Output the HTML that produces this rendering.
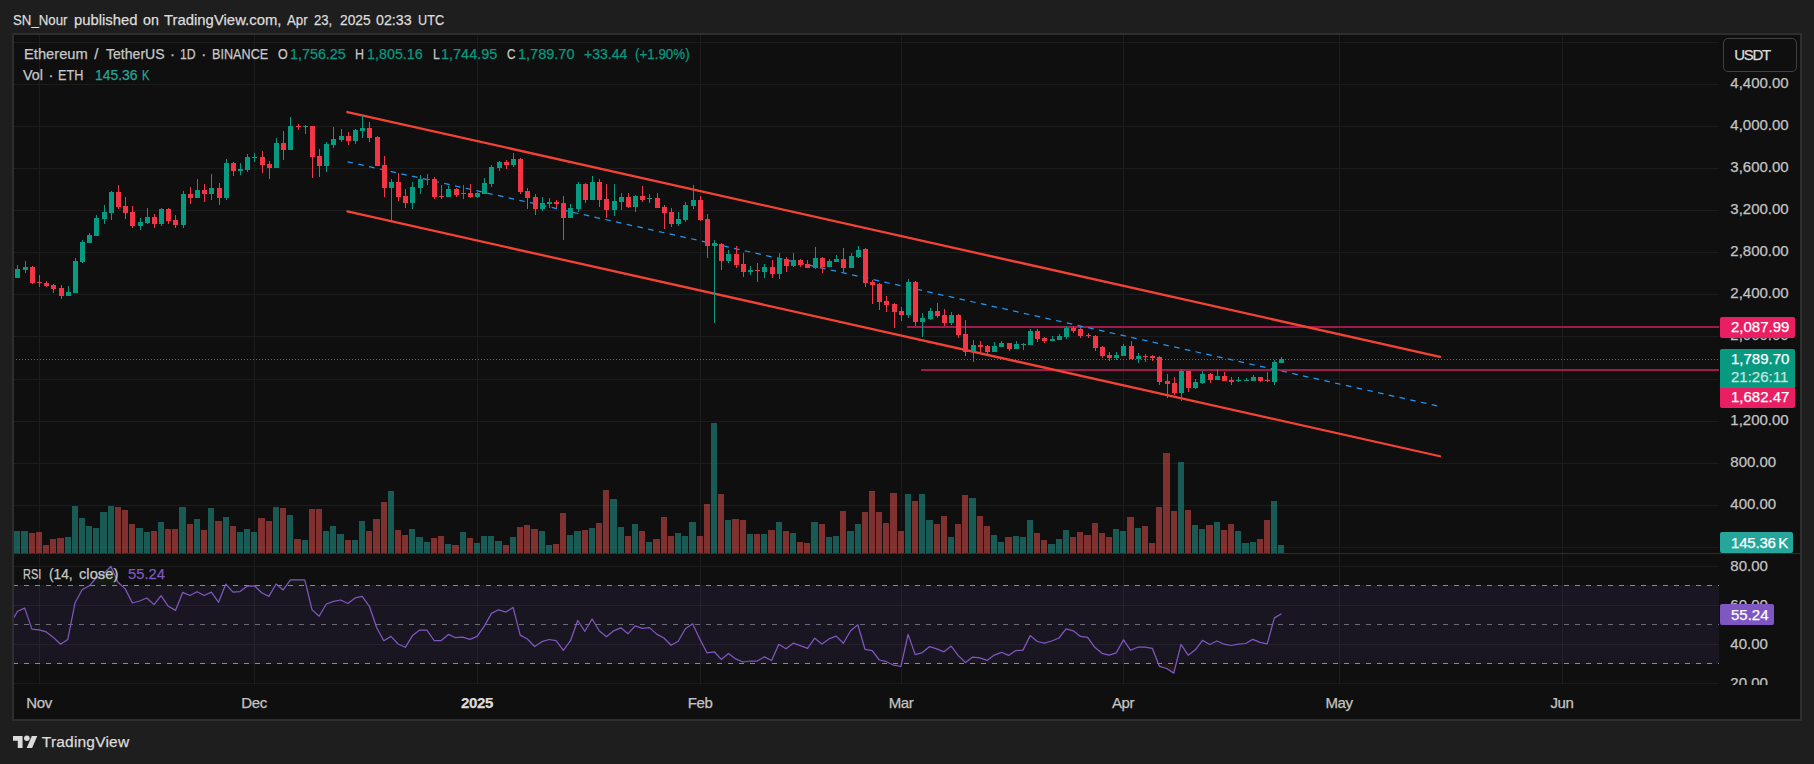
<!DOCTYPE html><html><head><meta charset="utf-8"><title>ETHUSDT chart</title><style>
html,body{margin:0;padding:0;background:#1e1e1e;}
body{width:1814px;height:764px;position:relative;overflow:hidden;font-family:"Liberation Sans", Arial, sans-serif;}
.t{position:absolute;white-space:nowrap;line-height:1;transform-origin:0 0;-webkit-text-stroke:0.25px currentColor;}
.title{font-size:15px;color:#dcdcdc;}
.lg{font-size:15px;color:#c8c8c8;}
.gr{color:#089981} .vg{color:#26a69a} .pu{color:#7e57c2}
.ax{font-size:15px;color:#c4c4c4;left:1730.3px;}
.tm{font-size:15px;color:#c4c4c4;transform:translateX(-50%);top:695px;letter-spacing:-0.4px;}
.lbl{-webkit-text-stroke:0.25px currentColor;position:absolute;left:1720px;color:#fff;font-size:15px;border-radius:2px;box-sizing:border-box;padding-left:11px;white-space:nowrap;width:75px;}
.usdt{-webkit-text-stroke:0.25px currentColor;position:absolute;left:1723px;top:38px;width:74px;height:34px;box-sizing:border-box;border:1px solid #424242;border-radius:5px;color:#dcdcdc;font-size:15px;line-height:32px;padding-left:10.2px;letter-spacing:-1.3px;background:#0f0f0f;}
.foot{left:41.8px;top:734px;font-size:15.5px;color:#dcdcdc;letter-spacing:0.2px;}

</style></head><body>
<svg width="1814" height="764" viewBox="0 0 1814 764" style="position:absolute;left:0;top:0">
<rect x="12" y="33" width="1790" height="688" fill="#2e2e2e"/>
<rect x="14" y="35" width="1786" height="684" fill="#0f0f0f"/>
<defs><clipPath id="cp"><rect x="14" y="35" width="1705" height="518"/></clipPath><clipPath id="cr2"><rect x="14" y="554" width="1705" height="129"/></clipPath><clipPath id="cr"><rect x="14" y="554" width="1705" height="129"/></clipPath></defs>
<g shape-rendering="crispEdges" fill="#1c1c1c"><rect x="14" y="42" width="1705" height="1"/><rect x="14" y="84" width="1705" height="1"/><rect x="14" y="126" width="1705" height="1"/><rect x="14" y="168" width="1705" height="1"/><rect x="14" y="210" width="1705" height="1"/><rect x="14" y="252" width="1705" height="1"/><rect x="14" y="294" width="1705" height="1"/><rect x="14" y="336" width="1705" height="1"/><rect x="14" y="379" width="1705" height="1"/><rect x="14" y="421" width="1705" height="1"/><rect x="14" y="463" width="1705" height="1"/><rect x="14" y="505" width="1705" height="1"/><rect x="14" y="547" width="1705" height="1"/><rect x="14" y="566" width="1705" height="1"/><rect x="14" y="605" width="1705" height="1"/><rect x="14" y="644" width="1705" height="1"/><rect x="39" y="35" width="1" height="650"/><rect x="254" y="35" width="1" height="650"/><rect x="477" y="35" width="1" height="650"/><rect x="700" y="35" width="1" height="650"/><rect x="901" y="35" width="1" height="650"/><rect x="1123" y="35" width="1" height="650"/><rect x="1339" y="35" width="1" height="650"/><rect x="1562" y="35" width="1" height="650"/></g>
<rect x="14" y="585" width="1705" height="79" fill="#7e57c2" fill-opacity="0.1"/>
<line clip-path="url(#cr2)" x1="13" y1="585.5" x2="1719" y2="585.5" stroke="#8a8a93" stroke-width="1" stroke-dasharray="5,6" shape-rendering="crispEdges"/>
<line clip-path="url(#cr2)" x1="13" y1="624.5" x2="1719" y2="624.5" stroke="#6a6a73" stroke-width="1" stroke-dasharray="5,6" shape-rendering="crispEdges"/>
<line clip-path="url(#cr2)" x1="13" y1="663.5" x2="1719" y2="663.5" stroke="#8a8a93" stroke-width="1" stroke-dasharray="5,6" shape-rendering="crispEdges"/>
<rect x="14" y="553" width="1786" height="1" fill="#2e2e2e" shape-rendering="crispEdges"/>
<rect x="14" y="683" width="1705" height="1" fill="#1c1c1c" shape-rendering="crispEdges"/>
<g shape-rendering="crispEdges"><rect x="14" y="531" width="6" height="22" fill="#26a69a" fill-opacity="0.5"/><rect x="21" y="531" width="7" height="22" fill="#26a69a" fill-opacity="0.5"/><rect x="29" y="533" width="6" height="20" fill="#ef5350" fill-opacity="0.5"/><rect x="36" y="532" width="6" height="21" fill="#ef5350" fill-opacity="0.5"/><rect x="43" y="545" width="6" height="8" fill="#ef5350" fill-opacity="0.5"/><rect x="50" y="539" width="6" height="14" fill="#ef5350" fill-opacity="0.5"/><rect x="57" y="538" width="7" height="15" fill="#ef5350" fill-opacity="0.5"/><rect x="65" y="537" width="6" height="16" fill="#26a69a" fill-opacity="0.5"/><rect x="72" y="506" width="6" height="47" fill="#26a69a" fill-opacity="0.5"/><rect x="79" y="518" width="6" height="35" fill="#26a69a" fill-opacity="0.5"/><rect x="86" y="526" width="6" height="27" fill="#26a69a" fill-opacity="0.5"/><rect x="93" y="528" width="6" height="25" fill="#26a69a" fill-opacity="0.5"/><rect x="100" y="512" width="7" height="41" fill="#26a69a" fill-opacity="0.5"/><rect x="108" y="506" width="6" height="47" fill="#26a69a" fill-opacity="0.5"/><rect x="115" y="507" width="6" height="46" fill="#ef5350" fill-opacity="0.5"/><rect x="122" y="510" width="6" height="43" fill="#ef5350" fill-opacity="0.5"/><rect x="129" y="524" width="6" height="29" fill="#ef5350" fill-opacity="0.5"/><rect x="136" y="528" width="7" height="25" fill="#26a69a" fill-opacity="0.5"/><rect x="144" y="532" width="6" height="21" fill="#26a69a" fill-opacity="0.5"/><rect x="151" y="531" width="6" height="22" fill="#ef5350" fill-opacity="0.5"/><rect x="158" y="522" width="6" height="31" fill="#26a69a" fill-opacity="0.5"/><rect x="165" y="529" width="6" height="24" fill="#ef5350" fill-opacity="0.5"/><rect x="172" y="529" width="6" height="24" fill="#ef5350" fill-opacity="0.5"/><rect x="179" y="507" width="7" height="46" fill="#26a69a" fill-opacity="0.5"/><rect x="187" y="524" width="6" height="29" fill="#ef5350" fill-opacity="0.5"/><rect x="194" y="519" width="6" height="34" fill="#26a69a" fill-opacity="0.5"/><rect x="201" y="530" width="6" height="23" fill="#ef5350" fill-opacity="0.5"/><rect x="208" y="508" width="6" height="45" fill="#26a69a" fill-opacity="0.5"/><rect x="215" y="521" width="7" height="32" fill="#ef5350" fill-opacity="0.5"/><rect x="223" y="517" width="6" height="36" fill="#26a69a" fill-opacity="0.5"/><rect x="230" y="526" width="6" height="27" fill="#ef5350" fill-opacity="0.5"/><rect x="237" y="532" width="6" height="21" fill="#26a69a" fill-opacity="0.5"/><rect x="244" y="529" width="6" height="24" fill="#26a69a" fill-opacity="0.5"/><rect x="251" y="532" width="6" height="21" fill="#26a69a" fill-opacity="0.5"/><rect x="258" y="518" width="7" height="35" fill="#ef5350" fill-opacity="0.5"/><rect x="266" y="521" width="6" height="32" fill="#ef5350" fill-opacity="0.5"/><rect x="273" y="507" width="6" height="46" fill="#26a69a" fill-opacity="0.5"/><rect x="280" y="508" width="6" height="45" fill="#ef5350" fill-opacity="0.5"/><rect x="287" y="515" width="6" height="38" fill="#26a69a" fill-opacity="0.5"/><rect x="294" y="539" width="7" height="14" fill="#ef5350" fill-opacity="0.5"/><rect x="302" y="540" width="6" height="13" fill="#26a69a" fill-opacity="0.5"/><rect x="309" y="509" width="6" height="44" fill="#ef5350" fill-opacity="0.5"/><rect x="316" y="509" width="6" height="44" fill="#ef5350" fill-opacity="0.5"/><rect x="323" y="531" width="6" height="22" fill="#26a69a" fill-opacity="0.5"/><rect x="330" y="526" width="6" height="27" fill="#26a69a" fill-opacity="0.5"/><rect x="337" y="534" width="7" height="19" fill="#26a69a" fill-opacity="0.5"/><rect x="345" y="540" width="6" height="13" fill="#ef5350" fill-opacity="0.5"/><rect x="352" y="540" width="6" height="13" fill="#26a69a" fill-opacity="0.5"/><rect x="359" y="521" width="6" height="32" fill="#26a69a" fill-opacity="0.5"/><rect x="366" y="531" width="6" height="22" fill="#ef5350" fill-opacity="0.5"/><rect x="373" y="519" width="7" height="34" fill="#ef5350" fill-opacity="0.5"/><rect x="381" y="502" width="6" height="51" fill="#ef5350" fill-opacity="0.5"/><rect x="388" y="491" width="6" height="62" fill="#26a69a" fill-opacity="0.5"/><rect x="395" y="530" width="6" height="23" fill="#ef5350" fill-opacity="0.5"/><rect x="402" y="535" width="6" height="18" fill="#ef5350" fill-opacity="0.5"/><rect x="409" y="529" width="6" height="24" fill="#26a69a" fill-opacity="0.5"/><rect x="416" y="537" width="7" height="16" fill="#26a69a" fill-opacity="0.5"/><rect x="424" y="542" width="6" height="11" fill="#26a69a" fill-opacity="0.5"/><rect x="431" y="538" width="6" height="15" fill="#ef5350" fill-opacity="0.5"/><rect x="438" y="536" width="6" height="17" fill="#ef5350" fill-opacity="0.5"/><rect x="445" y="544" width="6" height="9" fill="#26a69a" fill-opacity="0.5"/><rect x="452" y="545" width="7" height="8" fill="#ef5350" fill-opacity="0.5"/><rect x="460" y="532" width="6" height="21" fill="#26a69a" fill-opacity="0.5"/><rect x="467" y="538" width="6" height="15" fill="#ef5350" fill-opacity="0.5"/><rect x="474" y="543" width="6" height="10" fill="#26a69a" fill-opacity="0.5"/><rect x="481" y="536" width="6" height="17" fill="#26a69a" fill-opacity="0.5"/><rect x="488" y="536" width="6" height="17" fill="#26a69a" fill-opacity="0.5"/><rect x="495" y="541" width="7" height="12" fill="#26a69a" fill-opacity="0.5"/><rect x="503" y="545" width="6" height="8" fill="#ef5350" fill-opacity="0.5"/><rect x="510" y="537" width="6" height="16" fill="#26a69a" fill-opacity="0.5"/><rect x="517" y="527" width="6" height="26" fill="#ef5350" fill-opacity="0.5"/><rect x="524" y="525" width="6" height="28" fill="#ef5350" fill-opacity="0.5"/><rect x="531" y="529" width="7" height="24" fill="#ef5350" fill-opacity="0.5"/><rect x="539" y="531" width="6" height="22" fill="#26a69a" fill-opacity="0.5"/><rect x="546" y="545" width="6" height="8" fill="#26a69a" fill-opacity="0.5"/><rect x="553" y="544" width="6" height="9" fill="#ef5350" fill-opacity="0.5"/><rect x="560" y="513" width="6" height="40" fill="#ef5350" fill-opacity="0.5"/><rect x="567" y="535" width="6" height="18" fill="#26a69a" fill-opacity="0.5"/><rect x="574" y="531" width="7" height="22" fill="#26a69a" fill-opacity="0.5"/><rect x="582" y="530" width="6" height="23" fill="#ef5350" fill-opacity="0.5"/><rect x="589" y="528" width="6" height="25" fill="#26a69a" fill-opacity="0.5"/><rect x="596" y="523" width="6" height="30" fill="#ef5350" fill-opacity="0.5"/><rect x="603" y="490" width="6" height="63" fill="#ef5350" fill-opacity="0.5"/><rect x="610" y="499" width="7" height="54" fill="#26a69a" fill-opacity="0.5"/><rect x="618" y="527" width="6" height="26" fill="#26a69a" fill-opacity="0.5"/><rect x="625" y="536" width="6" height="17" fill="#ef5350" fill-opacity="0.5"/><rect x="632" y="524" width="6" height="29" fill="#26a69a" fill-opacity="0.5"/><rect x="639" y="531" width="6" height="22" fill="#ef5350" fill-opacity="0.5"/><rect x="646" y="542" width="6" height="11" fill="#26a69a" fill-opacity="0.5"/><rect x="653" y="539" width="7" height="14" fill="#ef5350" fill-opacity="0.5"/><rect x="661" y="517" width="6" height="36" fill="#ef5350" fill-opacity="0.5"/><rect x="668" y="536" width="6" height="17" fill="#ef5350" fill-opacity="0.5"/><rect x="675" y="533" width="6" height="20" fill="#26a69a" fill-opacity="0.5"/><rect x="682" y="536" width="6" height="17" fill="#26a69a" fill-opacity="0.5"/><rect x="689" y="522" width="7" height="31" fill="#26a69a" fill-opacity="0.5"/><rect x="697" y="536" width="6" height="17" fill="#ef5350" fill-opacity="0.5"/><rect x="704" y="504" width="6" height="49" fill="#ef5350" fill-opacity="0.5"/><rect x="711" y="423" width="6" height="130" fill="#26a69a" fill-opacity="0.5"/><rect x="718" y="494" width="6" height="59" fill="#ef5350" fill-opacity="0.5"/><rect x="725" y="520" width="6" height="33" fill="#26a69a" fill-opacity="0.5"/><rect x="732" y="519" width="7" height="34" fill="#ef5350" fill-opacity="0.5"/><rect x="740" y="520" width="6" height="33" fill="#ef5350" fill-opacity="0.5"/><rect x="747" y="534" width="6" height="19" fill="#26a69a" fill-opacity="0.5"/><rect x="754" y="534" width="6" height="19" fill="#ef5350" fill-opacity="0.5"/><rect x="761" y="534" width="6" height="19" fill="#26a69a" fill-opacity="0.5"/><rect x="768" y="530" width="7" height="23" fill="#ef5350" fill-opacity="0.5"/><rect x="776" y="522" width="6" height="31" fill="#26a69a" fill-opacity="0.5"/><rect x="783" y="531" width="6" height="22" fill="#ef5350" fill-opacity="0.5"/><rect x="790" y="533" width="6" height="20" fill="#26a69a" fill-opacity="0.5"/><rect x="797" y="542" width="6" height="11" fill="#ef5350" fill-opacity="0.5"/><rect x="804" y="543" width="6" height="10" fill="#ef5350" fill-opacity="0.5"/><rect x="811" y="522" width="7" height="31" fill="#26a69a" fill-opacity="0.5"/><rect x="819" y="524" width="6" height="29" fill="#ef5350" fill-opacity="0.5"/><rect x="826" y="537" width="6" height="16" fill="#26a69a" fill-opacity="0.5"/><rect x="833" y="536" width="6" height="17" fill="#26a69a" fill-opacity="0.5"/><rect x="840" y="511" width="6" height="42" fill="#ef5350" fill-opacity="0.5"/><rect x="847" y="531" width="7" height="22" fill="#26a69a" fill-opacity="0.5"/><rect x="855" y="524" width="6" height="29" fill="#26a69a" fill-opacity="0.5"/><rect x="862" y="512" width="6" height="41" fill="#ef5350" fill-opacity="0.5"/><rect x="869" y="491" width="6" height="62" fill="#ef5350" fill-opacity="0.5"/><rect x="876" y="512" width="6" height="41" fill="#ef5350" fill-opacity="0.5"/><rect x="883" y="523" width="6" height="30" fill="#ef5350" fill-opacity="0.5"/><rect x="890" y="493" width="7" height="60" fill="#ef5350" fill-opacity="0.5"/><rect x="898" y="531" width="6" height="22" fill="#ef5350" fill-opacity="0.5"/><rect x="905" y="494" width="6" height="59" fill="#26a69a" fill-opacity="0.5"/><rect x="912" y="501" width="6" height="52" fill="#ef5350" fill-opacity="0.5"/><rect x="919" y="494" width="6" height="59" fill="#26a69a" fill-opacity="0.5"/><rect x="926" y="520" width="7" height="33" fill="#26a69a" fill-opacity="0.5"/><rect x="934" y="524" width="6" height="29" fill="#ef5350" fill-opacity="0.5"/><rect x="941" y="516" width="6" height="37" fill="#ef5350" fill-opacity="0.5"/><rect x="948" y="537" width="6" height="16" fill="#26a69a" fill-opacity="0.5"/><rect x="955" y="524" width="6" height="29" fill="#ef5350" fill-opacity="0.5"/><rect x="962" y="495" width="6" height="58" fill="#ef5350" fill-opacity="0.5"/><rect x="969" y="498" width="7" height="55" fill="#26a69a" fill-opacity="0.5"/><rect x="977" y="516" width="6" height="37" fill="#ef5350" fill-opacity="0.5"/><rect x="984" y="526" width="6" height="27" fill="#ef5350" fill-opacity="0.5"/><rect x="991" y="535" width="6" height="18" fill="#26a69a" fill-opacity="0.5"/><rect x="998" y="542" width="6" height="11" fill="#26a69a" fill-opacity="0.5"/><rect x="1005" y="537" width="7" height="16" fill="#ef5350" fill-opacity="0.5"/><rect x="1013" y="536" width="6" height="17" fill="#26a69a" fill-opacity="0.5"/><rect x="1020" y="537" width="6" height="16" fill="#26a69a" fill-opacity="0.5"/><rect x="1027" y="520" width="6" height="33" fill="#26a69a" fill-opacity="0.5"/><rect x="1034" y="533" width="6" height="20" fill="#ef5350" fill-opacity="0.5"/><rect x="1041" y="540" width="6" height="13" fill="#ef5350" fill-opacity="0.5"/><rect x="1048" y="544" width="7" height="9" fill="#26a69a" fill-opacity="0.5"/><rect x="1056" y="539" width="6" height="14" fill="#26a69a" fill-opacity="0.5"/><rect x="1063" y="530" width="6" height="23" fill="#26a69a" fill-opacity="0.5"/><rect x="1070" y="537" width="6" height="16" fill="#ef5350" fill-opacity="0.5"/><rect x="1077" y="532" width="6" height="21" fill="#ef5350" fill-opacity="0.5"/><rect x="1084" y="535" width="7" height="18" fill="#ef5350" fill-opacity="0.5"/><rect x="1092" y="523" width="6" height="30" fill="#ef5350" fill-opacity="0.5"/><rect x="1099" y="533" width="6" height="20" fill="#ef5350" fill-opacity="0.5"/><rect x="1106" y="537" width="6" height="16" fill="#ef5350" fill-opacity="0.5"/><rect x="1113" y="529" width="6" height="24" fill="#26a69a" fill-opacity="0.5"/><rect x="1120" y="531" width="6" height="22" fill="#26a69a" fill-opacity="0.5"/><rect x="1127" y="517" width="7" height="36" fill="#ef5350" fill-opacity="0.5"/><rect x="1135" y="528" width="6" height="25" fill="#26a69a" fill-opacity="0.5"/><rect x="1142" y="526" width="6" height="27" fill="#ef5350" fill-opacity="0.5"/><rect x="1149" y="543" width="6" height="10" fill="#ef5350" fill-opacity="0.5"/><rect x="1156" y="507" width="6" height="46" fill="#ef5350" fill-opacity="0.5"/><rect x="1163" y="453" width="7" height="100" fill="#ef5350" fill-opacity="0.5"/><rect x="1171" y="511" width="6" height="42" fill="#ef5350" fill-opacity="0.5"/><rect x="1178" y="462" width="6" height="91" fill="#26a69a" fill-opacity="0.5"/><rect x="1185" y="510" width="6" height="43" fill="#ef5350" fill-opacity="0.5"/><rect x="1192" y="525" width="6" height="28" fill="#26a69a" fill-opacity="0.5"/><rect x="1199" y="529" width="6" height="24" fill="#26a69a" fill-opacity="0.5"/><rect x="1206" y="525" width="7" height="28" fill="#ef5350" fill-opacity="0.5"/><rect x="1214" y="522" width="6" height="31" fill="#26a69a" fill-opacity="0.5"/><rect x="1221" y="530" width="6" height="23" fill="#ef5350" fill-opacity="0.5"/><rect x="1228" y="524" width="6" height="29" fill="#ef5350" fill-opacity="0.5"/><rect x="1235" y="531" width="6" height="22" fill="#26a69a" fill-opacity="0.5"/><rect x="1242" y="543" width="7" height="10" fill="#26a69a" fill-opacity="0.5"/><rect x="1250" y="542" width="6" height="11" fill="#26a69a" fill-opacity="0.5"/><rect x="1257" y="539" width="6" height="14" fill="#ef5350" fill-opacity="0.5"/><rect x="1264" y="520" width="6" height="33" fill="#ef5350" fill-opacity="0.5"/><rect x="1271" y="501" width="6" height="52" fill="#26a69a" fill-opacity="0.5"/><rect x="1278" y="545" width="6" height="8" fill="#26a69a" fill-opacity="0.5"/></g>
<rect x="907" y="326" width="812" height="2" fill="#a01a4c" shape-rendering="crispEdges"/>
<rect x="921" y="369" width="798" height="2" fill="#a01a4c" shape-rendering="crispEdges"/>
<g clip-path="url(#cp)">
<line x1="347.6" y1="161.79" x2="1440.5" y2="406.63" stroke="#2196f3" stroke-width="1.25" stroke-dasharray="5.6,5.4"/>
<line x1="347.4" y1="112.01" x2="1440" y2="356.79" stroke="#f44336" stroke-width="2.3" stroke-linecap="round"/>
<line x1="347.4" y1="211.47" x2="1440" y2="456.25" stroke="#f44336" stroke-width="2.3" stroke-linecap="round"/>
</g>
<line x1="16" y1="359.5" x2="1719" y2="359.5" stroke="#089981" stroke-width="1" stroke-dasharray="1,2" shape-rendering="crispEdges"/>
<g shape-rendering="crispEdges"><rect x="17" y="265" width="1" height="13" fill="#089981"/><rect x="15" y="269" width="5" height="9" fill="#089981"/><rect x="25" y="261" width="1" height="12" fill="#089981"/><rect x="23" y="267" width="5" height="3" fill="#089981"/><rect x="32" y="266" width="1" height="18" fill="#f23645"/><rect x="30" y="267" width="5" height="16" fill="#f23645"/><rect x="39" y="275" width="1" height="12" fill="#f23645"/><rect x="37" y="282" width="5" height="1" fill="#f23645"/><rect x="46" y="281" width="1" height="6" fill="#f23645"/><rect x="44" y="283" width="5" height="3" fill="#f23645"/><rect x="53" y="284" width="1" height="9" fill="#f23645"/><rect x="51" y="285" width="5" height="4" fill="#f23645"/><rect x="61" y="285" width="1" height="14" fill="#f23645"/><rect x="59" y="288" width="5" height="8" fill="#f23645"/><rect x="68" y="286" width="1" height="10" fill="#089981"/><rect x="66" y="292" width="5" height="4" fill="#089981"/><rect x="75" y="258" width="1" height="35" fill="#089981"/><rect x="73" y="261" width="5" height="32" fill="#089981"/><rect x="82" y="240" width="1" height="23" fill="#089981"/><rect x="80" y="242" width="5" height="20" fill="#089981"/><rect x="89" y="233" width="1" height="10" fill="#089981"/><rect x="87" y="235" width="5" height="8" fill="#089981"/><rect x="96" y="215" width="1" height="21" fill="#089981"/><rect x="94" y="218" width="5" height="18" fill="#089981"/><rect x="104" y="205" width="1" height="19" fill="#089981"/><rect x="102" y="212" width="5" height="7" fill="#089981"/><rect x="111" y="191" width="1" height="29" fill="#089981"/><rect x="109" y="192" width="5" height="21" fill="#089981"/><rect x="118" y="185" width="1" height="24" fill="#f23645"/><rect x="116" y="192" width="5" height="15" fill="#f23645"/><rect x="125" y="197" width="1" height="22" fill="#f23645"/><rect x="123" y="206" width="5" height="7" fill="#f23645"/><rect x="132" y="206" width="1" height="22" fill="#f23645"/><rect x="130" y="212" width="5" height="14" fill="#f23645"/><rect x="140" y="218" width="1" height="12" fill="#089981"/><rect x="138" y="222" width="5" height="4" fill="#089981"/><rect x="147" y="208" width="1" height="16" fill="#089981"/><rect x="145" y="217" width="5" height="6" fill="#089981"/><rect x="154" y="214" width="1" height="14" fill="#f23645"/><rect x="152" y="217" width="5" height="7" fill="#f23645"/><rect x="161" y="208" width="1" height="18" fill="#089981"/><rect x="159" y="209" width="5" height="15" fill="#089981"/><rect x="168" y="208" width="1" height="16" fill="#f23645"/><rect x="166" y="209" width="5" height="12" fill="#f23645"/><rect x="175" y="215" width="1" height="13" fill="#f23645"/><rect x="173" y="220" width="5" height="5" fill="#f23645"/><rect x="183" y="191" width="1" height="37" fill="#089981"/><rect x="181" y="194" width="5" height="31" fill="#089981"/><rect x="190" y="187" width="1" height="17" fill="#f23645"/><rect x="188" y="194" width="5" height="4" fill="#f23645"/><rect x="197" y="179" width="1" height="19" fill="#089981"/><rect x="195" y="190" width="5" height="8" fill="#089981"/><rect x="204" y="184" width="1" height="18" fill="#f23645"/><rect x="202" y="190" width="5" height="4" fill="#f23645"/><rect x="211" y="174" width="1" height="26" fill="#089981"/><rect x="209" y="188" width="5" height="6" fill="#089981"/><rect x="219" y="183" width="1" height="22" fill="#f23645"/><rect x="217" y="188" width="5" height="10" fill="#f23645"/><rect x="226" y="159" width="1" height="41" fill="#089981"/><rect x="224" y="163" width="5" height="35" fill="#089981"/><rect x="233" y="162" width="1" height="14" fill="#f23645"/><rect x="231" y="163" width="5" height="8" fill="#f23645"/><rect x="240" y="163" width="1" height="12" fill="#089981"/><rect x="238" y="169" width="5" height="2" fill="#089981"/><rect x="247" y="154" width="1" height="18" fill="#089981"/><rect x="245" y="157" width="5" height="13" fill="#089981"/><rect x="254" y="153" width="1" height="9" fill="#089981"/><rect x="252" y="157" width="5" height="1" fill="#089981"/><rect x="262" y="151" width="1" height="22" fill="#f23645"/><rect x="260" y="157" width="5" height="8" fill="#f23645"/><rect x="269" y="161" width="1" height="18" fill="#f23645"/><rect x="267" y="164" width="5" height="4" fill="#f23645"/><rect x="276" y="138" width="1" height="30" fill="#089981"/><rect x="274" y="143" width="5" height="25" fill="#089981"/><rect x="283" y="131" width="1" height="29" fill="#f23645"/><rect x="281" y="143" width="5" height="7" fill="#f23645"/><rect x="290" y="117" width="1" height="33" fill="#089981"/><rect x="288" y="126" width="5" height="24" fill="#089981"/><rect x="298" y="124" width="1" height="6" fill="#f23645"/><rect x="296" y="126" width="5" height="1" fill="#f23645"/><rect x="305" y="125" width="1" height="9" fill="#089981"/><rect x="303" y="126" width="5" height="1" fill="#089981"/><rect x="312" y="126" width="1" height="52" fill="#f23645"/><rect x="310" y="126" width="5" height="31" fill="#f23645"/><rect x="319" y="149" width="1" height="28" fill="#f23645"/><rect x="317" y="156" width="5" height="10" fill="#f23645"/><rect x="326" y="142" width="1" height="30" fill="#089981"/><rect x="324" y="144" width="5" height="22" fill="#089981"/><rect x="333" y="127" width="1" height="21" fill="#089981"/><rect x="331" y="139" width="5" height="6" fill="#089981"/><rect x="341" y="129" width="1" height="13" fill="#089981"/><rect x="339" y="136" width="5" height="4" fill="#089981"/><rect x="348" y="132" width="1" height="13" fill="#f23645"/><rect x="346" y="136" width="5" height="5" fill="#f23645"/><rect x="355" y="129" width="1" height="15" fill="#089981"/><rect x="353" y="130" width="5" height="11" fill="#089981"/><rect x="362" y="115" width="1" height="23" fill="#089981"/><rect x="360" y="128" width="5" height="3" fill="#089981"/><rect x="369" y="122" width="1" height="20" fill="#f23645"/><rect x="367" y="128" width="5" height="10" fill="#f23645"/><rect x="377" y="136" width="1" height="30" fill="#f23645"/><rect x="375" y="137" width="5" height="29" fill="#f23645"/><rect x="384" y="156" width="1" height="41" fill="#f23645"/><rect x="382" y="165" width="5" height="23" fill="#f23645"/><rect x="391" y="179" width="1" height="42" fill="#089981"/><rect x="389" y="182" width="5" height="6" fill="#089981"/><rect x="398" y="173" width="1" height="28" fill="#f23645"/><rect x="396" y="182" width="5" height="15" fill="#f23645"/><rect x="405" y="189" width="1" height="19" fill="#f23645"/><rect x="403" y="196" width="5" height="7" fill="#f23645"/><rect x="412" y="182" width="1" height="27" fill="#089981"/><rect x="410" y="187" width="5" height="16" fill="#089981"/><rect x="420" y="175" width="1" height="19" fill="#089981"/><rect x="418" y="179" width="5" height="9" fill="#089981"/><rect x="427" y="174" width="1" height="11" fill="#089981"/><rect x="425" y="179" width="5" height="1" fill="#089981"/><rect x="434" y="177" width="1" height="22" fill="#f23645"/><rect x="432" y="179" width="5" height="18" fill="#f23645"/><rect x="441" y="185" width="1" height="14" fill="#f23645"/><rect x="439" y="196" width="5" height="1" fill="#f23645"/><rect x="448" y="186" width="1" height="11" fill="#089981"/><rect x="446" y="189" width="5" height="8" fill="#089981"/><rect x="456" y="188" width="1" height="9" fill="#f23645"/><rect x="454" y="189" width="5" height="6" fill="#f23645"/><rect x="463" y="185" width="1" height="14" fill="#089981"/><rect x="461" y="193" width="5" height="1" fill="#089981"/><rect x="470" y="184" width="1" height="14" fill="#f23645"/><rect x="468" y="193" width="5" height="4" fill="#f23645"/><rect x="477" y="192" width="1" height="6" fill="#089981"/><rect x="475" y="193" width="5" height="4" fill="#089981"/><rect x="484" y="178" width="1" height="16" fill="#089981"/><rect x="482" y="183" width="5" height="11" fill="#089981"/><rect x="491" y="165" width="1" height="22" fill="#089981"/><rect x="489" y="167" width="5" height="17" fill="#089981"/><rect x="499" y="161" width="1" height="10" fill="#089981"/><rect x="497" y="162" width="5" height="6" fill="#089981"/><rect x="506" y="160" width="1" height="9" fill="#f23645"/><rect x="504" y="162" width="5" height="3" fill="#f23645"/><rect x="513" y="153" width="1" height="14" fill="#089981"/><rect x="511" y="159" width="5" height="6" fill="#089981"/><rect x="520" y="158" width="1" height="36" fill="#f23645"/><rect x="518" y="159" width="5" height="33" fill="#f23645"/><rect x="527" y="188" width="1" height="21" fill="#f23645"/><rect x="525" y="191" width="5" height="7" fill="#f23645"/><rect x="535" y="194" width="1" height="21" fill="#f23645"/><rect x="533" y="197" width="5" height="12" fill="#f23645"/><rect x="542" y="197" width="1" height="14" fill="#089981"/><rect x="540" y="203" width="5" height="6" fill="#089981"/><rect x="549" y="198" width="1" height="10" fill="#089981"/><rect x="547" y="202" width="5" height="2" fill="#089981"/><rect x="556" y="200" width="1" height="8" fill="#f23645"/><rect x="554" y="202" width="5" height="2" fill="#f23645"/><rect x="563" y="196" width="1" height="44" fill="#f23645"/><rect x="561" y="203" width="5" height="15" fill="#f23645"/><rect x="570" y="204" width="1" height="14" fill="#089981"/><rect x="568" y="208" width="5" height="10" fill="#089981"/><rect x="578" y="182" width="1" height="30" fill="#089981"/><rect x="576" y="184" width="5" height="25" fill="#089981"/><rect x="585" y="183" width="1" height="20" fill="#f23645"/><rect x="583" y="184" width="5" height="16" fill="#f23645"/><rect x="592" y="176" width="1" height="24" fill="#089981"/><rect x="590" y="182" width="5" height="18" fill="#089981"/><rect x="599" y="179" width="1" height="28" fill="#f23645"/><rect x="597" y="182" width="5" height="18" fill="#f23645"/><rect x="606" y="184" width="1" height="34" fill="#f23645"/><rect x="604" y="199" width="5" height="11" fill="#f23645"/><rect x="614" y="184" width="1" height="32" fill="#089981"/><rect x="612" y="201" width="5" height="9" fill="#089981"/><rect x="621" y="193" width="1" height="17" fill="#089981"/><rect x="619" y="197" width="5" height="5" fill="#089981"/><rect x="628" y="193" width="1" height="15" fill="#f23645"/><rect x="626" y="197" width="5" height="10" fill="#f23645"/><rect x="635" y="195" width="1" height="17" fill="#089981"/><rect x="633" y="196" width="5" height="11" fill="#089981"/><rect x="642" y="186" width="1" height="16" fill="#f23645"/><rect x="640" y="196" width="5" height="4" fill="#f23645"/><rect x="649" y="194" width="1" height="9" fill="#089981"/><rect x="647" y="198" width="5" height="1" fill="#089981"/><rect x="657" y="193" width="1" height="15" fill="#f23645"/><rect x="655" y="198" width="5" height="10" fill="#f23645"/><rect x="664" y="205" width="1" height="24" fill="#f23645"/><rect x="662" y="207" width="5" height="6" fill="#f23645"/><rect x="671" y="208" width="1" height="19" fill="#f23645"/><rect x="669" y="212" width="5" height="12" fill="#f23645"/><rect x="678" y="212" width="1" height="14" fill="#089981"/><rect x="676" y="219" width="5" height="5" fill="#089981"/><rect x="685" y="202" width="1" height="20" fill="#089981"/><rect x="683" y="205" width="5" height="15" fill="#089981"/><rect x="693" y="185" width="1" height="24" fill="#089981"/><rect x="691" y="200" width="5" height="6" fill="#089981"/><rect x="700" y="196" width="1" height="25" fill="#f23645"/><rect x="698" y="200" width="5" height="20" fill="#f23645"/><rect x="707" y="214" width="1" height="44" fill="#f23645"/><rect x="705" y="219" width="5" height="27" fill="#f23645"/><rect x="714" y="240" width="1" height="83" fill="#089981"/><rect x="712" y="243" width="5" height="3" fill="#089981"/><rect x="721" y="243" width="1" height="27" fill="#f23645"/><rect x="719" y="244" width="5" height="17" fill="#f23645"/><rect x="728" y="250" width="1" height="13" fill="#089981"/><rect x="726" y="254" width="5" height="7" fill="#089981"/><rect x="736" y="246" width="1" height="22" fill="#f23645"/><rect x="734" y="254" width="5" height="11" fill="#f23645"/><rect x="743" y="253" width="1" height="24" fill="#f23645"/><rect x="741" y="264" width="5" height="8" fill="#f23645"/><rect x="750" y="266" width="1" height="9" fill="#089981"/><rect x="748" y="270" width="5" height="2" fill="#089981"/><rect x="757" y="263" width="1" height="19" fill="#f23645"/><rect x="755" y="270" width="5" height="1" fill="#f23645"/><rect x="764" y="264" width="1" height="14" fill="#089981"/><rect x="762" y="267" width="5" height="5" fill="#089981"/><rect x="772" y="260" width="1" height="18" fill="#f23645"/><rect x="770" y="267" width="5" height="7" fill="#f23645"/><rect x="779" y="253" width="1" height="26" fill="#089981"/><rect x="777" y="258" width="5" height="16" fill="#089981"/><rect x="786" y="257" width="1" height="15" fill="#f23645"/><rect x="784" y="259" width="5" height="7" fill="#f23645"/><rect x="793" y="253" width="1" height="14" fill="#089981"/><rect x="791" y="260" width="5" height="6" fill="#089981"/><rect x="800" y="259" width="1" height="8" fill="#f23645"/><rect x="798" y="260" width="5" height="5" fill="#f23645"/><rect x="807" y="260" width="1" height="8" fill="#f23645"/><rect x="805" y="264" width="5" height="4" fill="#f23645"/><rect x="815" y="247" width="1" height="22" fill="#089981"/><rect x="813" y="258" width="5" height="10" fill="#089981"/><rect x="822" y="257" width="1" height="16" fill="#f23645"/><rect x="820" y="258" width="5" height="9" fill="#f23645"/><rect x="829" y="259" width="1" height="8" fill="#089981"/><rect x="827" y="261" width="5" height="6" fill="#089981"/><rect x="836" y="255" width="1" height="7" fill="#089981"/><rect x="834" y="259" width="5" height="3" fill="#089981"/><rect x="843" y="248" width="1" height="24" fill="#f23645"/><rect x="841" y="259" width="5" height="9" fill="#f23645"/><rect x="851" y="253" width="1" height="15" fill="#089981"/><rect x="849" y="256" width="5" height="12" fill="#089981"/><rect x="858" y="246" width="1" height="12" fill="#089981"/><rect x="856" y="250" width="5" height="7" fill="#089981"/><rect x="865" y="248" width="1" height="39" fill="#f23645"/><rect x="863" y="249" width="5" height="34" fill="#f23645"/><rect x="872" y="280" width="1" height="24" fill="#f23645"/><rect x="870" y="282" width="5" height="3" fill="#f23645"/><rect x="879" y="283" width="1" height="27" fill="#f23645"/><rect x="877" y="284" width="5" height="18" fill="#f23645"/><rect x="886" y="296" width="1" height="16" fill="#f23645"/><rect x="884" y="301" width="5" height="4" fill="#f23645"/><rect x="894" y="303" width="1" height="25" fill="#f23645"/><rect x="892" y="304" width="5" height="8" fill="#f23645"/><rect x="901" y="307" width="1" height="14" fill="#f23645"/><rect x="899" y="311" width="5" height="4" fill="#f23645"/><rect x="908" y="279" width="1" height="39" fill="#089981"/><rect x="906" y="282" width="5" height="33" fill="#089981"/><rect x="915" y="281" width="1" height="45" fill="#f23645"/><rect x="913" y="282" width="5" height="40" fill="#f23645"/><rect x="922" y="313" width="1" height="24" fill="#089981"/><rect x="920" y="318" width="5" height="4" fill="#089981"/><rect x="930" y="308" width="1" height="12" fill="#089981"/><rect x="928" y="311" width="5" height="8" fill="#089981"/><rect x="937" y="303" width="1" height="15" fill="#f23645"/><rect x="935" y="311" width="5" height="5" fill="#f23645"/><rect x="944" y="309" width="1" height="17" fill="#f23645"/><rect x="942" y="315" width="5" height="8" fill="#f23645"/><rect x="951" y="312" width="1" height="13" fill="#089981"/><rect x="949" y="315" width="5" height="8" fill="#089981"/><rect x="958" y="314" width="1" height="24" fill="#f23645"/><rect x="956" y="315" width="5" height="20" fill="#f23645"/><rect x="965" y="320" width="1" height="36" fill="#f23645"/><rect x="963" y="334" width="5" height="18" fill="#f23645"/><rect x="973" y="340" width="1" height="22" fill="#089981"/><rect x="971" y="345" width="5" height="7" fill="#089981"/><rect x="980" y="341" width="1" height="11" fill="#f23645"/><rect x="978" y="345" width="5" height="2" fill="#f23645"/><rect x="987" y="345" width="1" height="9" fill="#f23645"/><rect x="985" y="346" width="5" height="6" fill="#f23645"/><rect x="994" y="342" width="1" height="10" fill="#089981"/><rect x="992" y="346" width="5" height="6" fill="#089981"/><rect x="1001" y="341" width="1" height="6" fill="#089981"/><rect x="999" y="343" width="5" height="4" fill="#089981"/><rect x="1009" y="343" width="1" height="8" fill="#f23645"/><rect x="1007" y="343" width="5" height="6" fill="#f23645"/><rect x="1016" y="341" width="1" height="8" fill="#089981"/><rect x="1014" y="344" width="5" height="5" fill="#089981"/><rect x="1023" y="343" width="1" height="7" fill="#089981"/><rect x="1021" y="344" width="5" height="1" fill="#089981"/><rect x="1030" y="329" width="1" height="16" fill="#089981"/><rect x="1028" y="331" width="5" height="14" fill="#089981"/><rect x="1037" y="329" width="1" height="13" fill="#f23645"/><rect x="1035" y="331" width="5" height="8" fill="#f23645"/><rect x="1044" y="337" width="1" height="6" fill="#f23645"/><rect x="1042" y="338" width="5" height="3" fill="#f23645"/><rect x="1052" y="336" width="1" height="5" fill="#089981"/><rect x="1050" y="339" width="5" height="2" fill="#089981"/><rect x="1059" y="334" width="1" height="6" fill="#089981"/><rect x="1057" y="336" width="5" height="4" fill="#089981"/><rect x="1066" y="326" width="1" height="13" fill="#089981"/><rect x="1064" y="328" width="5" height="9" fill="#089981"/><rect x="1073" y="326" width="1" height="7" fill="#f23645"/><rect x="1071" y="328" width="5" height="3" fill="#f23645"/><rect x="1080" y="327" width="1" height="11" fill="#f23645"/><rect x="1078" y="329" width="5" height="7" fill="#f23645"/><rect x="1088" y="333" width="1" height="5" fill="#f23645"/><rect x="1086" y="335" width="5" height="1" fill="#f23645"/><rect x="1095" y="335" width="1" height="16" fill="#f23645"/><rect x="1093" y="336" width="5" height="12" fill="#f23645"/><rect x="1102" y="346" width="1" height="12" fill="#f23645"/><rect x="1100" y="347" width="5" height="9" fill="#f23645"/><rect x="1109" y="352" width="1" height="9" fill="#f23645"/><rect x="1107" y="355" width="5" height="3" fill="#f23645"/><rect x="1116" y="352" width="1" height="8" fill="#089981"/><rect x="1114" y="355" width="5" height="3" fill="#089981"/><rect x="1123" y="344" width="1" height="12" fill="#089981"/><rect x="1121" y="346" width="5" height="10" fill="#089981"/><rect x="1131" y="341" width="1" height="18" fill="#f23645"/><rect x="1129" y="346" width="5" height="13" fill="#f23645"/><rect x="1138" y="353" width="1" height="10" fill="#089981"/><rect x="1136" y="356" width="5" height="3" fill="#089981"/><rect x="1145" y="354" width="1" height="8" fill="#f23645"/><rect x="1143" y="356" width="5" height="1" fill="#f23645"/><rect x="1152" y="355" width="1" height="6" fill="#f23645"/><rect x="1150" y="356" width="5" height="2" fill="#f23645"/><rect x="1159" y="356" width="1" height="29" fill="#f23645"/><rect x="1157" y="357" width="5" height="25" fill="#f23645"/><rect x="1167" y="374" width="1" height="24" fill="#f23645"/><rect x="1165" y="381" width="5" height="3" fill="#f23645"/><rect x="1174" y="377" width="1" height="18" fill="#f23645"/><rect x="1172" y="383" width="5" height="10" fill="#f23645"/><rect x="1181" y="369" width="1" height="32" fill="#089981"/><rect x="1179" y="371" width="5" height="22" fill="#089981"/><rect x="1188" y="371" width="1" height="21" fill="#f23645"/><rect x="1186" y="371" width="5" height="17" fill="#f23645"/><rect x="1195" y="379" width="1" height="10" fill="#089981"/><rect x="1193" y="382" width="5" height="6" fill="#089981"/><rect x="1202" y="371" width="1" height="13" fill="#089981"/><rect x="1200" y="374" width="5" height="9" fill="#089981"/><rect x="1210" y="373" width="1" height="10" fill="#f23645"/><rect x="1208" y="374" width="5" height="6" fill="#f23645"/><rect x="1217" y="369" width="1" height="11" fill="#089981"/><rect x="1215" y="376" width="5" height="4" fill="#089981"/><rect x="1224" y="372" width="1" height="9" fill="#f23645"/><rect x="1222" y="376" width="5" height="5" fill="#f23645"/><rect x="1231" y="377" width="1" height="8" fill="#f23645"/><rect x="1229" y="380" width="5" height="2" fill="#f23645"/><rect x="1238" y="377" width="1" height="5" fill="#089981"/><rect x="1236" y="380" width="5" height="1" fill="#089981"/><rect x="1246" y="378" width="1" height="3" fill="#089981"/><rect x="1244" y="380" width="5" height="1" fill="#089981"/><rect x="1253" y="375" width="1" height="6" fill="#089981"/><rect x="1251" y="377" width="5" height="4" fill="#089981"/><rect x="1260" y="377" width="1" height="5" fill="#f23645"/><rect x="1258" y="377" width="5" height="4" fill="#f23645"/><rect x="1267" y="372" width="1" height="10" fill="#f23645"/><rect x="1265" y="380" width="5" height="1" fill="#f23645"/><rect x="1274" y="360" width="1" height="25" fill="#089981"/><rect x="1272" y="362" width="5" height="20" fill="#089981"/><rect x="1281" y="357" width="1" height="6" fill="#089981"/><rect x="1279" y="359" width="5" height="4" fill="#089981"/></g>
<defs><clipPath id="ob"><rect x="14" y="554" width="1705" height="31"/></clipPath><clipPath id="os"><rect x="14" y="664" width="1705" height="19"/></clipPath><linearGradient id="gob" x1="0" y1="554" x2="0" y2="585" gradientUnits="userSpaceOnUse"><stop offset="0" stop-color="#4caf50" stop-opacity="0.35"/><stop offset="1" stop-color="#4caf50" stop-opacity="0.05"/></linearGradient><linearGradient id="gos" x1="0" y1="664" x2="0" y2="684" gradientUnits="userSpaceOnUse"><stop offset="0" stop-color="#ff5252" stop-opacity="0.05"/><stop offset="1" stop-color="#ff5252" stop-opacity="0.35"/></linearGradient></defs>
<polygon clip-path="url(#ob)" fill="url(#gob)" points="14,585 14.0,617.5 17.5,611.2 24.7,608.1 31.9,629.1 39.0,629.8 46.2,631.9 53.4,637.4 60.6,644.2 67.8,639.4 75.0,603.0 82.1,589.8 89.3,585.8 96.5,577.5 103.7,573.7 110.9,566.3 118.0,582.3 125.2,588.9 132.4,603.0 139.6,601.0 146.8,598.0 154.0,604.6 161.1,595.7 168.3,606.3 175.5,610.4 182.7,592.4 189.9,595.5 197.1,591.7 204.2,595.5 211.4,592.1 218.6,602.3 225.8,584.1 233.0,592.1 240.1,591.6 247.3,586.1 254.5,585.8 261.7,592.7 268.9,596.4 276.1,584.0 283.2,589.9 290.4,579.8 297.6,579.8 304.8,579.8 312.0,609.6 319.1,616.2 326.3,604.0 333.5,601.3 340.7,600.0 347.9,603.5 355.1,597.9 362.2,596.4 369.4,606.3 376.6,627.5 383.8,640.7 391.0,636.4 398.1,644.0 405.3,647.3 412.5,635.6 419.7,630.1 426.9,630.1 434.1,640.5 441.2,640.5 448.4,634.4 455.6,637.7 462.8,637.2 470.0,639.4 477.1,636.4 484.3,626.1 491.5,613.4 498.7,609.8 505.9,612.1 513.1,607.4 520.2,635.1 527.4,639.0 534.6,646.5 541.8,641.7 549.0,639.5 556.1,640.7 563.3,650.4 570.5,640.7 577.7,620.5 584.9,631.3 592.1,619.0 599.2,630.8 606.4,636.7 613.6,630.8 620.8,627.8 628.0,633.7 635.2,625.8 642.3,628.3 649.5,627.6 656.7,634.1 663.9,638.0 671.1,645.3 678.2,641.3 685.4,628.8 692.6,623.8 699.8,639.0 707.0,652.8 714.2,651.8 721.3,659.4 728.5,653.6 735.7,658.9 742.9,662.0 750.1,661.0 757.2,661.0 764.4,656.9 771.6,660.5 778.8,644.3 786.0,648.8 793.2,643.2 800.3,645.6 807.5,648.3 814.7,638.2 821.9,644.0 829.1,638.9 836.2,636.1 843.4,643.3 850.6,630.8 857.8,624.8 865.0,649.3 872.2,650.6 879.3,660.0 886.5,661.7 893.7,665.2 900.9,666.5 908.1,634.4 915.2,654.6 922.4,652.6 929.6,646.6 936.8,648.8 944.0,651.8 951.2,646.1 958.3,655.6 965.5,662.5 972.7,657.1 979.9,657.9 987.1,660.4 994.3,655.1 1001.4,652.3 1008.6,655.4 1015.8,650.6 1023.0,650.1 1030.2,635.6 1037.3,641.5 1044.5,643.2 1051.7,641.0 1058.9,638.0 1066.1,628.8 1073.3,630.8 1080.4,636.4 1087.6,637.4 1094.8,647.3 1102.0,653.3 1109.2,655.2 1116.3,652.8 1123.5,639.9 1130.7,650.3 1137.9,647.0 1145.1,647.1 1152.3,648.3 1159.4,666.3 1166.6,668.5 1173.8,673.1 1181.0,644.3 1188.2,655.2 1195.3,649.8 1202.5,640.4 1209.7,644.5 1216.9,641.0 1224.1,644.2 1231.3,645.5 1238.4,644.2 1245.6,643.5 1252.8,639.4 1260.0,642.3 1267.2,643.8 1274.4,617.9 1281.5,613.7 1300,585"/>
<polygon clip-path="url(#os)" fill="url(#gos)" points="14,664 14.0,617.5 17.5,611.2 24.7,608.1 31.9,629.1 39.0,629.8 46.2,631.9 53.4,637.4 60.6,644.2 67.8,639.4 75.0,603.0 82.1,589.8 89.3,585.8 96.5,577.5 103.7,573.7 110.9,566.3 118.0,582.3 125.2,588.9 132.4,603.0 139.6,601.0 146.8,598.0 154.0,604.6 161.1,595.7 168.3,606.3 175.5,610.4 182.7,592.4 189.9,595.5 197.1,591.7 204.2,595.5 211.4,592.1 218.6,602.3 225.8,584.1 233.0,592.1 240.1,591.6 247.3,586.1 254.5,585.8 261.7,592.7 268.9,596.4 276.1,584.0 283.2,589.9 290.4,579.8 297.6,579.8 304.8,579.8 312.0,609.6 319.1,616.2 326.3,604.0 333.5,601.3 340.7,600.0 347.9,603.5 355.1,597.9 362.2,596.4 369.4,606.3 376.6,627.5 383.8,640.7 391.0,636.4 398.1,644.0 405.3,647.3 412.5,635.6 419.7,630.1 426.9,630.1 434.1,640.5 441.2,640.5 448.4,634.4 455.6,637.7 462.8,637.2 470.0,639.4 477.1,636.4 484.3,626.1 491.5,613.4 498.7,609.8 505.9,612.1 513.1,607.4 520.2,635.1 527.4,639.0 534.6,646.5 541.8,641.7 549.0,639.5 556.1,640.7 563.3,650.4 570.5,640.7 577.7,620.5 584.9,631.3 592.1,619.0 599.2,630.8 606.4,636.7 613.6,630.8 620.8,627.8 628.0,633.7 635.2,625.8 642.3,628.3 649.5,627.6 656.7,634.1 663.9,638.0 671.1,645.3 678.2,641.3 685.4,628.8 692.6,623.8 699.8,639.0 707.0,652.8 714.2,651.8 721.3,659.4 728.5,653.6 735.7,658.9 742.9,662.0 750.1,661.0 757.2,661.0 764.4,656.9 771.6,660.5 778.8,644.3 786.0,648.8 793.2,643.2 800.3,645.6 807.5,648.3 814.7,638.2 821.9,644.0 829.1,638.9 836.2,636.1 843.4,643.3 850.6,630.8 857.8,624.8 865.0,649.3 872.2,650.6 879.3,660.0 886.5,661.7 893.7,665.2 900.9,666.5 908.1,634.4 915.2,654.6 922.4,652.6 929.6,646.6 936.8,648.8 944.0,651.8 951.2,646.1 958.3,655.6 965.5,662.5 972.7,657.1 979.9,657.9 987.1,660.4 994.3,655.1 1001.4,652.3 1008.6,655.4 1015.8,650.6 1023.0,650.1 1030.2,635.6 1037.3,641.5 1044.5,643.2 1051.7,641.0 1058.9,638.0 1066.1,628.8 1073.3,630.8 1080.4,636.4 1087.6,637.4 1094.8,647.3 1102.0,653.3 1109.2,655.2 1116.3,652.8 1123.5,639.9 1130.7,650.3 1137.9,647.0 1145.1,647.1 1152.3,648.3 1159.4,666.3 1166.6,668.5 1173.8,673.1 1181.0,644.3 1188.2,655.2 1195.3,649.8 1202.5,640.4 1209.7,644.5 1216.9,641.0 1224.1,644.2 1231.3,645.5 1238.4,644.2 1245.6,643.5 1252.8,639.4 1260.0,642.3 1267.2,643.8 1274.4,617.9 1281.5,613.7 1300,664"/>
<polyline clip-path="url(#cr)" fill="none" stroke="#7e57c2" stroke-width="1.25" stroke-linejoin="round" points="14.0,617.5 17.5,611.2 24.7,608.1 31.9,629.1 39.0,629.8 46.2,631.9 53.4,637.4 60.6,644.2 67.8,639.4 75.0,603.0 82.1,589.8 89.3,585.8 96.5,577.5 103.7,573.7 110.9,566.3 118.0,582.3 125.2,588.9 132.4,603.0 139.6,601.0 146.8,598.0 154.0,604.6 161.1,595.7 168.3,606.3 175.5,610.4 182.7,592.4 189.9,595.5 197.1,591.7 204.2,595.5 211.4,592.1 218.6,602.3 225.8,584.1 233.0,592.1 240.1,591.6 247.3,586.1 254.5,585.8 261.7,592.7 268.9,596.4 276.1,584.0 283.2,589.9 290.4,579.8 297.6,579.8 304.8,579.8 312.0,609.6 319.1,616.2 326.3,604.0 333.5,601.3 340.7,600.0 347.9,603.5 355.1,597.9 362.2,596.4 369.4,606.3 376.6,627.5 383.8,640.7 391.0,636.4 398.1,644.0 405.3,647.3 412.5,635.6 419.7,630.1 426.9,630.1 434.1,640.5 441.2,640.5 448.4,634.4 455.6,637.7 462.8,637.2 470.0,639.4 477.1,636.4 484.3,626.1 491.5,613.4 498.7,609.8 505.9,612.1 513.1,607.4 520.2,635.1 527.4,639.0 534.6,646.5 541.8,641.7 549.0,639.5 556.1,640.7 563.3,650.4 570.5,640.7 577.7,620.5 584.9,631.3 592.1,619.0 599.2,630.8 606.4,636.7 613.6,630.8 620.8,627.8 628.0,633.7 635.2,625.8 642.3,628.3 649.5,627.6 656.7,634.1 663.9,638.0 671.1,645.3 678.2,641.3 685.4,628.8 692.6,623.8 699.8,639.0 707.0,652.8 714.2,651.8 721.3,659.4 728.5,653.6 735.7,658.9 742.9,662.0 750.1,661.0 757.2,661.0 764.4,656.9 771.6,660.5 778.8,644.3 786.0,648.8 793.2,643.2 800.3,645.6 807.5,648.3 814.7,638.2 821.9,644.0 829.1,638.9 836.2,636.1 843.4,643.3 850.6,630.8 857.8,624.8 865.0,649.3 872.2,650.6 879.3,660.0 886.5,661.7 893.7,665.2 900.9,666.5 908.1,634.4 915.2,654.6 922.4,652.6 929.6,646.6 936.8,648.8 944.0,651.8 951.2,646.1 958.3,655.6 965.5,662.5 972.7,657.1 979.9,657.9 987.1,660.4 994.3,655.1 1001.4,652.3 1008.6,655.4 1015.8,650.6 1023.0,650.1 1030.2,635.6 1037.3,641.5 1044.5,643.2 1051.7,641.0 1058.9,638.0 1066.1,628.8 1073.3,630.8 1080.4,636.4 1087.6,637.4 1094.8,647.3 1102.0,653.3 1109.2,655.2 1116.3,652.8 1123.5,639.9 1130.7,650.3 1137.9,647.0 1145.1,647.1 1152.3,648.3 1159.4,666.3 1166.6,668.5 1173.8,673.1 1181.0,644.3 1188.2,655.2 1195.3,649.8 1202.5,640.4 1209.7,644.5 1216.9,641.0 1224.1,644.2 1231.3,645.5 1238.4,644.2 1245.6,643.5 1252.8,639.4 1260.0,642.3 1267.2,643.8 1274.4,617.9 1281.5,613.7"/>
</svg>
<div><span class="t title " style="left:13.30px;top:12px;transform:scaleX(0.883);">SN_Nour</span><span class="t title " style="left:74.20px;top:12px;transform:scaleX(0.988);">published</span><span class="t title " style="left:142.60px;top:12px;transform:scaleX(0.952);">on</span><span class="t title " style="left:163.60px;top:12px;transform:scaleX(0.992);">TradingView.com,</span><span class="t title " style="left:286.80px;top:12px;transform:scaleX(0.887);">Apr</span><span class="t title " style="left:314.10px;top:12px;transform:scaleX(0.873);">23,</span><span class="t title " style="left:339.70px;top:12px;transform:scaleX(0.918);">2025</span><span class="t title " style="left:376.10px;top:12px;transform:scaleX(0.948);">02:33</span><span class="t title " style="left:418.30px;top:12px;transform:scaleX(0.846);">UTC</span></div>
<div><span class="t lg " style="left:23.50px;top:46px;transform:scaleX(0.981);">Ethereum</span><span class="t lg " style="left:94.20px;top:46px;">/</span><span class="t lg " style="left:105.80px;top:46px;transform:scaleX(0.938);">TetherUS</span><span class="t lg " style="left:169.90px;top:46px;">·</span><span class="t lg " style="left:180.30px;top:46px;transform:scaleX(0.818);">1D</span><span class="t lg " style="left:201.30px;top:46px;">·</span><span class="t lg " style="left:211.70px;top:46px;transform:scaleX(0.843);">BINANCE</span><span class="t lg " style="left:278.20px;top:46px;transform:scaleX(0.833);">O</span><span class="t lg gr" style="left:289.60px;top:46px;transform:scaleX(0.955);">1,756.25</span><span class="t lg " style="left:355.30px;top:46px;transform:scaleX(0.829);">H</span><span class="t lg gr" style="left:366.70px;top:46px;transform:scaleX(0.955);">1,805.16</span><span class="t lg " style="left:432.70px;top:46px;transform:scaleX(0.814);">L</span><span class="t lg gr" style="left:441.40px;top:46px;transform:scaleX(0.964);">1,744.95</span><span class="t lg " style="left:507.40px;top:46px;transform:scaleX(0.783);">C</span><span class="t lg gr" style="left:517.60px;top:46px;transform:scaleX(0.967);">1,789.70</span><span class="t lg gr" style="left:584.30px;top:46px;transform:scaleX(0.933);">+33.44</span><span class="t lg gr" style="left:634.70px;top:46px;transform:scaleX(0.891);">(+1.90%)</span></div>
<div><span class="t lg " style="left:23.20px;top:67px;transform:scaleX(0.954);">Vol</span><span class="t lg " style="left:48.45px;top:67px;">·</span><span class="t lg " style="left:58.30px;top:67px;transform:scaleX(0.843);">ETH</span><span class="t lg vg" style="left:94.70px;top:67px;transform:scaleX(0.928);">145.36</span><span class="t lg vg" style="left:141.50px;top:67px;transform:scaleX(0.740);">K</span></div>
<div><span class="t lg " style="left:23.20px;top:566px;transform:scaleX(0.728);">RSI</span><span class="t lg " style="left:49.20px;top:566px;transform:scaleX(0.913);">(14,</span><span class="t lg " style="left:79.00px;top:566px;transform:scaleX(0.982);">close)</span><span class="t lg pu" style="left:127.70px;top:566px;transform:scaleX(0.983);">55.24</span></div>
<div class="usdt">USDT</div>
<div class="t ax" style="top:75px">4,400.00</div>
<div class="t ax" style="top:117px">4,000.00</div>
<div class="t ax" style="top:159px">3,600.00</div>
<div class="t ax" style="top:201px">3,200.00</div>
<div class="t ax" style="top:243px">2,800.00</div>
<div class="t ax" style="top:285px">2,400.00</div>
<div class="t ax" style="top:327px">2,000.00</div>
<div class="t ax" style="top:412px">1,200.00</div>
<div class="t ax" style="top:454px">800.00</div>
<div class="t ax" style="top:496px">400.00</div>
<div class="t ax" style="top:557.5px">80.00</div>
<div class="t ax" style="top:596.5px">60.00</div>
<div class="t ax" style="top:635.5px">40.00</div>
<div class="t ax" style="top:674.5px">20.00</div>
<div style="position:absolute;left:1719px;top:685px;width:81px;height:34px;background:#0f0f0f"></div>
<div class="lbl" style="top:317px;height:21px;line-height:19px;background:#e91e63">2,087.99</div>
<div class="lbl" style="top:349px;height:39px;background:#089981;line-height:18px;padding-top:0.5px;border-radius:2px 2px 0 0">1,789.70<br><span style="color:#c5e6df">21:26:11</span></div>
<div class="lbl" style="top:388px;height:20px;line-height:18px;background:#e91e63;border-radius:0 0 2px 2px">1,682.47</div>
<div class="lbl" style="top:532px;height:21px;line-height:21px;background:#26a69a;width:73px"><span style="letter-spacing:-0.2px">145.36</span><span style="margin-left:2.6px">K</span></div>
<div class="lbl" style="top:604px;height:21px;line-height:21px;background:#7e57c2;width:54px">55.24</div>
<div class="t tm" style="left:39px;">Nov</div>
<div class="t tm" style="left:254px;">Dec</div>
<div class="t tm" style="left:477px;font-weight:bold;color:#dcdcdc;">2025</div>
<div class="t tm" style="left:700px;">Feb</div>
<div class="t tm" style="left:901px;">Mar</div>
<div class="t tm" style="left:1123px;">Apr</div>
<div class="t tm" style="left:1339px;">May</div>
<div class="t tm" style="left:1562px;">Jun</div>
<svg style="position:absolute;left:13px;top:736px;overflow:visible" width="24.6" height="12" viewBox="0 0 36 18" preserveAspectRatio="none"><path fill="#dcdcdc" d="M14 18H7V7H0V0h14v18zM28 18h-8l7.5-18h8L28 18z"/><circle fill="#dcdcdc" cx="20.3" cy="3.4" r="4.1"/></svg>
<div class="t foot">TradingView</div>
</body></html>
